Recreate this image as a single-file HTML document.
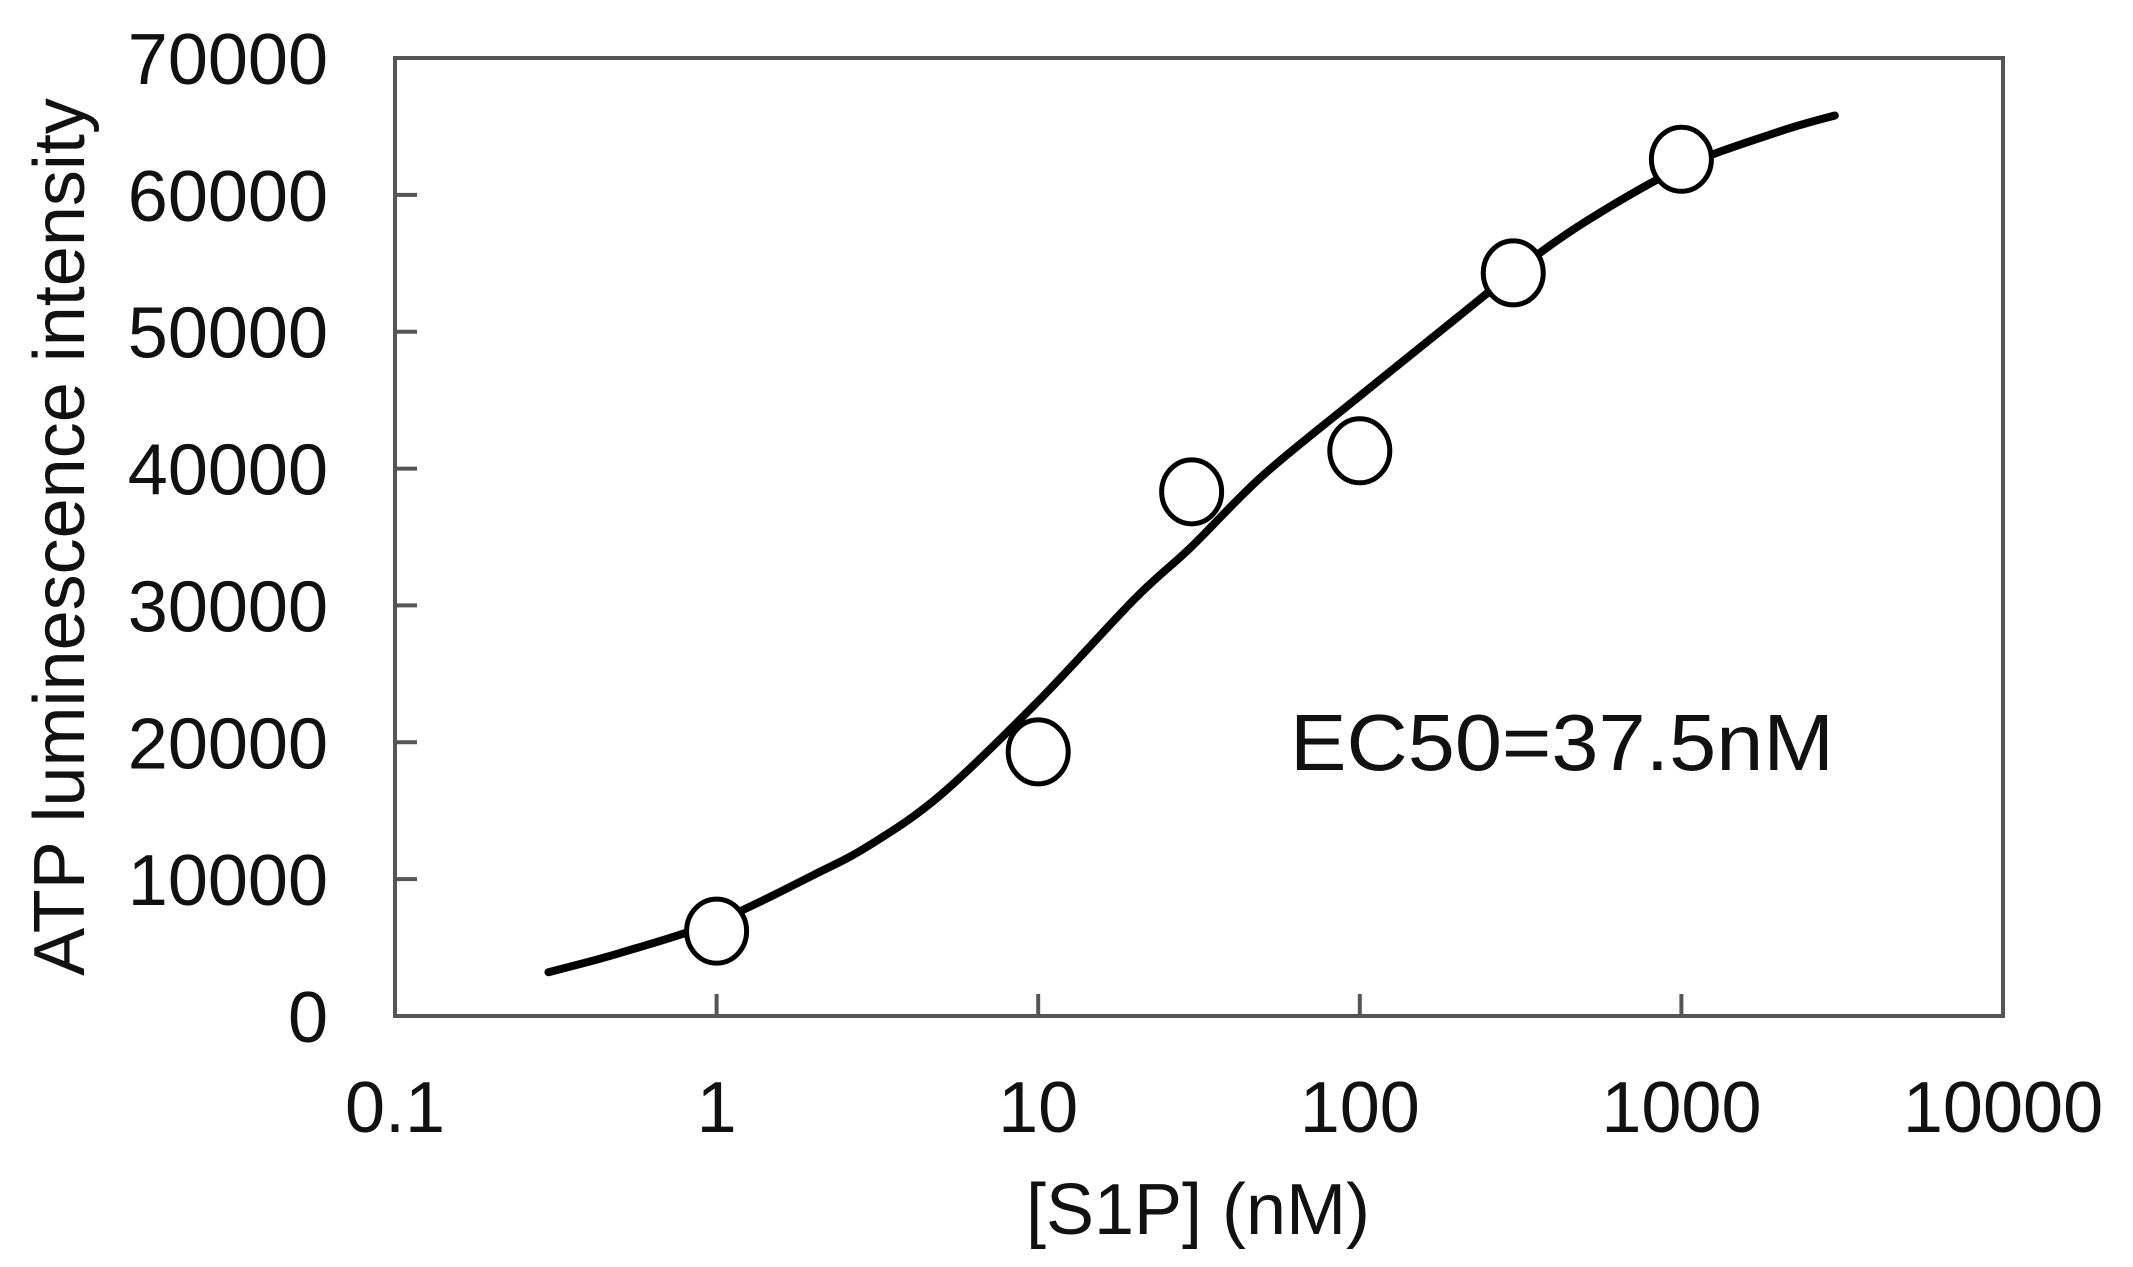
<!DOCTYPE html>
<html><head><meta charset="utf-8"><style>
html,body{margin:0;padding:0;background:#fff;}
svg{display:block;}
text{font-family:"Liberation Sans",Arial,sans-serif;fill:#111;}
</style></head><body>
<svg id="chart" width="2133" height="1267" viewBox="0 0 2133 1267" xmlns="http://www.w3.org/2000/svg">
<g id="axes"></g>
<path id="curve" fill="none" stroke="#000" stroke-width="8" stroke-linecap="round" stroke-linejoin="round"/>
<g id="points"></g>
<text x="1290" y="770" font-size="80" textLength="544" lengthAdjust="spacingAndGlyphs">EC50=37.5nM</text>
<text x="1198" y="1234" font-size="72" text-anchor="middle">[S1P] (nM)</text>
<text transform="translate(84,537) rotate(-90)" font-size="72" text-anchor="middle">ATP luminescence intensity</text>
</svg>
<script>
const xTicks = [0.1, 1, 10, 100, 1000, 10000];
const xTickLabels = ["0.1", "1", "10", "100", "1000", "10000"];
const yTicks = [0, 10000, 20000, 30000, 40000, 50000, 60000, 70000];
const yTickLabels = ["0", "10000", "20000", "30000", "40000", "50000", "60000", "70000"];
const pointX = [1, 10, 30, 100, 300, 1000];
const pointY = [6200, 19300, 38300, 41300, 54300, 62600];
const curveX = [0.3, 0.5, 1, 2, 3, 5, 10, 20, 30, 50, 100, 200, 300, 500, 1000, 2000, 3000];
const curveY = [3200, 4600, 6900, 10300, 12500, 16200, 23000, 30500, 34300, 39500, 45300, 51000, 54300, 58000, 62000, 64600, 65800];

const L = 395, R = 2003, T = 58, B = 1016;
const xMin = 0.1, xMax = 10000, yMax = 70000;
const sx = v => L + (Math.log10(v) - Math.log10(xMin)) / (Math.log10(xMax) - Math.log10(xMin)) * (R - L);
const sy = v => B - v / yMax * (B - T);
const NS = "http://www.w3.org/2000/svg";
const axes = document.getElementById('axes');
function mk(tag, attrs, parent) {
  const e = document.createElementNS(NS, tag);
  for (const k in attrs) e.setAttribute(k, attrs[k]);
  parent.appendChild(e);
  return e;
}
const frame = mk('rect', {x: L, y: T, width: R - L, height: B - T, fill: 'none', stroke: '#555', 'stroke-width': 4}, axes);


xTicks.forEach((v, i) => {
  const x = sx(v);
  const t = mk('line', {x1: x, x2: x, y1: B, y2: B - 22, stroke: '#555', 'stroke-width': 4}, axes);
  
  
  const lb = mk('text', {x: x, y: 1132, 'font-size': 72, 'text-anchor': 'middle'}, axes);
  lb.textContent = xTickLabels[i];
  
  
});
yTicks.forEach((v, i) => {
  const y = sy(v);
  const t = mk('line', {x1: L, x2: L + 22, y1: y, y2: y, stroke: '#555', 'stroke-width': 4}, axes);
  
  
  const lb = mk('text', {x: 328, y: y + 26, 'font-size': 72, 'text-anchor': 'end'}, axes);
  lb.textContent = yTickLabels[i];
  
  
});
const pts = curveX.map((v, i) => [sx(v), sy(curveY[i])]);
let d = `M${pts[0][0]},${pts[0][1]}`;
for (let i = 0; i < pts.length - 1; i++) {
  const p0 = pts[Math.max(0, i - 1)], p1 = pts[i], p2 = pts[i + 1], p3 = pts[Math.min(pts.length - 1, i + 2)];
  const c1 = [p1[0] + (p2[0] - p0[0]) / 6, p1[1] + (p2[1] - p0[1]) / 6];
  const c2 = [p2[0] - (p3[0] - p1[0]) / 6, p2[1] - (p3[1] - p1[1]) / 6];
  d += ` C${c1[0]},${c1[1]} ${c2[0]},${c2[1]} ${p2[0]},${p2[1]}`;
}
document.getElementById('curve').setAttribute('d', d);
const pg = document.getElementById('points');
pointX.forEach((v, i) => {
  const c = mk('ellipse', {cx: sx(v), cy: sy(pointY[i]), rx: 30, ry: 32, fill: '#fff', stroke: '#000', 'stroke-width': 5}, pg);
  
  
});
</script>
</body></html>
